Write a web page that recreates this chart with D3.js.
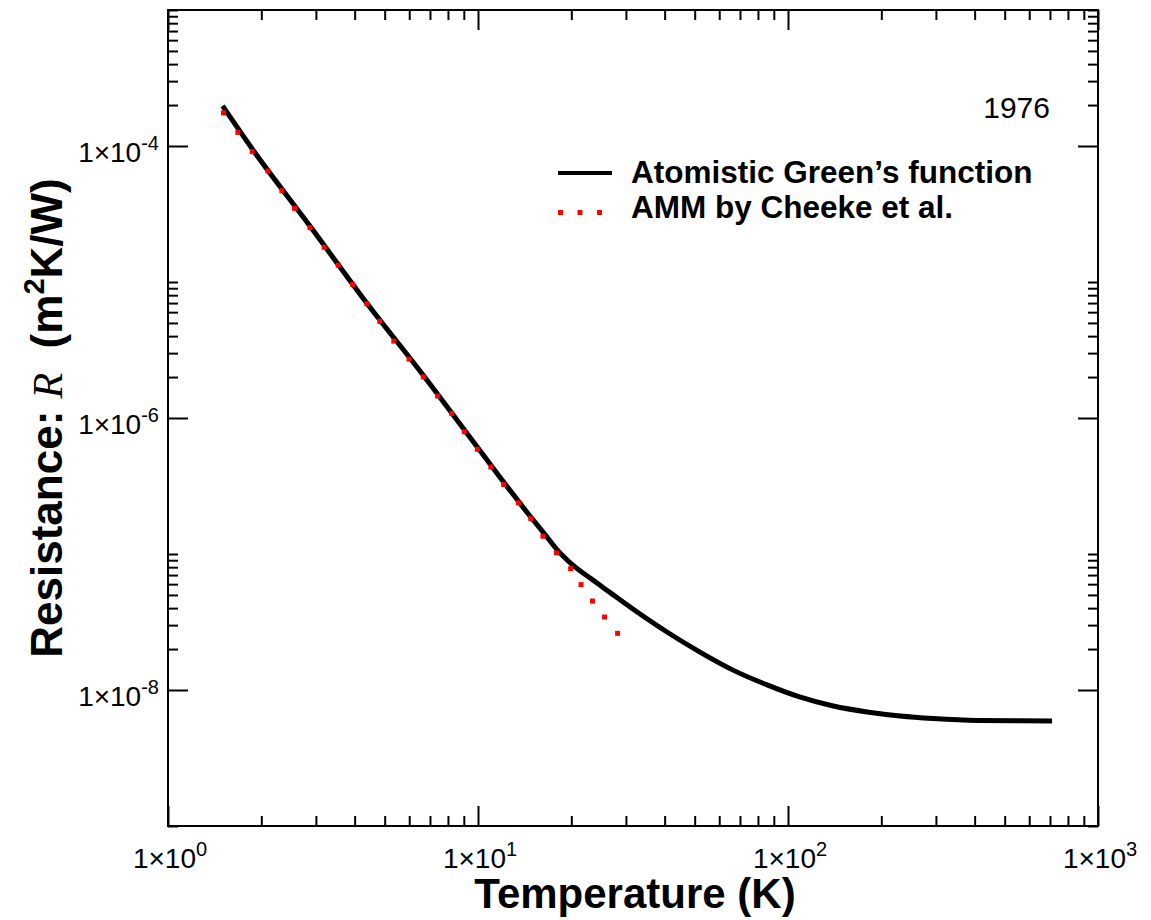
<!DOCTYPE html>
<html>
<head>
<meta charset="utf-8">
<script src="https://cdn.jsdelivr.net/npm/d3@7"></script>
<style>
  html, body { margin: 0; padding: 0; background: #fff; }
  svg { display: block; }
  text { font-family: "Liberation Sans", Arial, Helvetica, sans-serif; }
</style>
</head>
<body>
<div id="chart"></div>
<script>
// Atomistic Green's function (black solid line)
const agfT = [1.50, 1.87, 2.87, 4.35, 6.65, 10.0, 14.8, 16.5, 18.1, 20.1, 23.0, 26.7,
              31.6, 40.7, 52.0, 66.5, 85.6, 109, 140, 180, 230, 294, 407, 711];
const agfR = [1.97e-4, 9.51e-5, 2.58e-5, 7.13e-6, 2.07e-6, 6.01e-7, 1.87e-7, 1.38e-7,
              1.06e-7, 8.40e-8, 6.65e-8, 5.20e-8, 3.94e-8, 2.67e-8, 1.90e-8, 1.40e-8,
              1.09e-8, 8.89e-9, 7.62e-9, 6.89e-9, 6.44e-9, 6.17e-9, 5.97e-9, 5.92e-9];

// AMM by Cheeke et al. (red dotted)
const ammT = [1.51, 1.68, 1.87, 2.10, 2.33, 2.56, 2.87, 3.19, 3.54, 3.94, 4.38, 4.82,
              5.35, 5.99, 6.66, 7.41, 8.23, 9.03, 9.95, 11.0, 12.1, 13.5, 14.8, 16.2,
              17.9, 19.9, 21.5, 23.4, 25.6, 28.2];
const ammR = [1.75e-4, 1.26e-4, 9.08e-5, 6.55e-5, 4.69e-5, 3.48e-5, 2.51e-5, 1.80e-5,
              1.33e-5, 9.61e-6, 6.92e-6, 5.14e-6, 3.68e-6, 2.71e-6, 2.01e-6, 1.45e-6,
              1.08e-6, 7.93e-7, 5.89e-7, 4.36e-7, 3.24e-7, 2.38e-7, 1.82e-7, 1.35e-7,
              1.02e-7, 7.80e-8, 5.95e-8, 4.51e-8, 3.44e-8, 2.61e-8];

// axis ticks (exponents)
const xMajorExp = [0, 1, 2, 3];
const yMajorExp = [-8, -6, -4];
const yMinorBase = [-10, -8, -6, -4];

const width = 1151, height = 920;
const frame = { left: 168, right: 1098, top: 10, bottom: 826 };

const svg = d3.select('#chart').append('svg')
    .attr('width', width)
    .attr('height', height);

const x = d3.scaleLog().domain([1, 1000]).range([frame.left, frame.right]);
const y = d3.scaleLog().domain([1e-9, 1e-3]).range([frame.bottom, frame.top]);

// tick values
const xMajor = xMajorExp.map(e => Math.pow(10, e));
const xMinor = [];
xMajorExp.slice(0, -1).forEach(e => {
    for (let k = 2; k <= 9; k++) xMinor.push(k * Math.pow(10, e));
});
const yMajor = yMajorExp.map(e => Math.pow(10, e));
const yMinor = [];
yMinorBase.forEach(e => {
    for (let k = 2; k <= 10; k++) {
        const v = k * Math.pow(10, e);
        if (v >= 1e-9 && v <= 1e-3) yMinor.push(v);
    }
});

// ticks on all four sides, pointing inward
function tickAxis(axisFn, scale, values, size, transform) {
    const g = svg.append('g')
        .attr('transform', transform)
        .call(axisFn(scale).tickValues(values).tickSize(-size).tickFormat(''));
    g.select('.domain').remove();
    g.selectAll('line').attr('stroke', '#000').attr('stroke-width', 2);
}
tickAxis(d3.axisBottom, x, xMajor, 20, `translate(0,${frame.bottom})`);
tickAxis(d3.axisBottom, x, xMinor, 10, `translate(0,${frame.bottom})`);
tickAxis(d3.axisTop, x, xMajor, 20, `translate(0,${frame.top})`);
tickAxis(d3.axisTop, x, xMinor, 10, `translate(0,${frame.top})`);
tickAxis(d3.axisLeft, y, yMajor, 20, `translate(${frame.left},0)`);
tickAxis(d3.axisLeft, y, yMinor, 10, `translate(${frame.left},0)`);
tickAxis(d3.axisRight, y, yMajor, 20, `translate(${frame.right},0)`);
tickAxis(d3.axisRight, y, yMinor, 10, `translate(${frame.right},0)`);

// frame
svg.append('rect')
    .attr('x', frame.left).attr('y', frame.top)
    .attr('width', frame.right - frame.left)
    .attr('height', frame.bottom - frame.top)
    .attr('fill', 'none')
    .attr('stroke', '#000')
    .attr('stroke-width', 2);

// tick labels 1x10^n
function powLabel(sel, exp) {
    sel.append('tspan').text('1\u00d710');
    sel.append('tspan').attr('font-size', 20).attr('dy', -12).text(exp);
}
xMajorExp.forEach(e => {
    svg.append('text')
        .attr('x', x(Math.pow(10, e)) + 2)
        .attr('y', 868)
        .attr('text-anchor', 'middle')
        .attr('font-size', 28)
        .call(powLabel, e);
});
yMajorExp.forEach(e => {
    svg.append('text')
        .attr('x', frame.left - 9)
        .attr('y', y(Math.pow(10, e)) + 16)
        .attr('text-anchor', 'end')
        .attr('font-size', 28)
        .call(powLabel, e);
});

// axis titles
svg.append('text')
    .attr('x', (frame.left + frame.right) / 2 + 2)
    .attr('y', 908)
    .attr('text-anchor', 'middle')
    .attr('font-size', 42)
    .attr('font-weight', 'bold')
    .text('Temperature (K)');

const yt = svg.append('text')
    .attr('transform', `translate(62,${(frame.top + frame.bottom) / 2}) rotate(-90)`)
    .attr('text-anchor', 'middle')
    .attr('font-size', 44)
    .attr('font-weight', 'bold')
    .style('white-space', 'pre');
yt.append('tspan').text('Resistance: ');
yt.append('tspan')
    .style('font-family', '"Liberation Serif", "Times New Roman", serif')
    .attr('font-style', 'italic')
    .attr('font-weight', 'normal')
    .attr('font-size', 42)
    .text('R');
yt.append('tspan').text('  (m');
yt.append('tspan').attr('font-size', 29).attr('dy', -18).text('2');
yt.append('tspan').attr('dy', 18).text('K/W)');

// AGF curve
const agf = agfT.map((t, i) => ({ t, r: agfR[i] }));
const line = d3.line().x(d => x(d.t)).y(d => y(d.r)).curve(d3.curveMonotoneX);
svg.append('path')
    .datum(agf)
    .attr('d', line)
    .attr('fill', 'none')
    .attr('stroke', '#000')
    .attr('stroke-width', 5);

// AMM points
const amm = ammT.map((t, i) => ({ t, r: ammR[i] }));
svg.append('g').selectAll('rect')
    .data(amm)
    .enter().append('rect')
    .attr('x', d => x(d.t) - 2.5)
    .attr('y', d => y(d.r) - 2.5)
    .attr('width', 5)
    .attr('height', 5)
    .attr('fill', '#ff0000');

// legend
svg.append('line')
    .attr('x1', 558).attr('x2', 612)
    .attr('y1', 173).attr('y2', 173)
    .attr('stroke', '#000').attr('stroke-width', 4);
svg.append('text')
    .attr('x', 631).attr('y', 183)
    .attr('font-size', 31.5).attr('font-weight', 'bold')
    .text('Atomistic Green\u2019s function');
svg.append('g').selectAll('rect')
    .data([0, 1, 2])
    .enter().append('rect')
    .attr('x', d => 558 + d * 19.5)
    .attr('y', 210)
    .attr('width', 5).attr('height', 5)
    .attr('fill', '#ff0000');
svg.append('text')
    .attr('x', 631).attr('y', 218)
    .attr('font-size', 31.5).attr('font-weight', 'bold')
    .text('AMM by Cheeke et al.');

svg.append('text')
    .attr('x', 1050).attr('y', 118)
    .attr('text-anchor', 'end')
    .attr('font-size', 30)
    .text('1976');
</script>
</body>
</html>
